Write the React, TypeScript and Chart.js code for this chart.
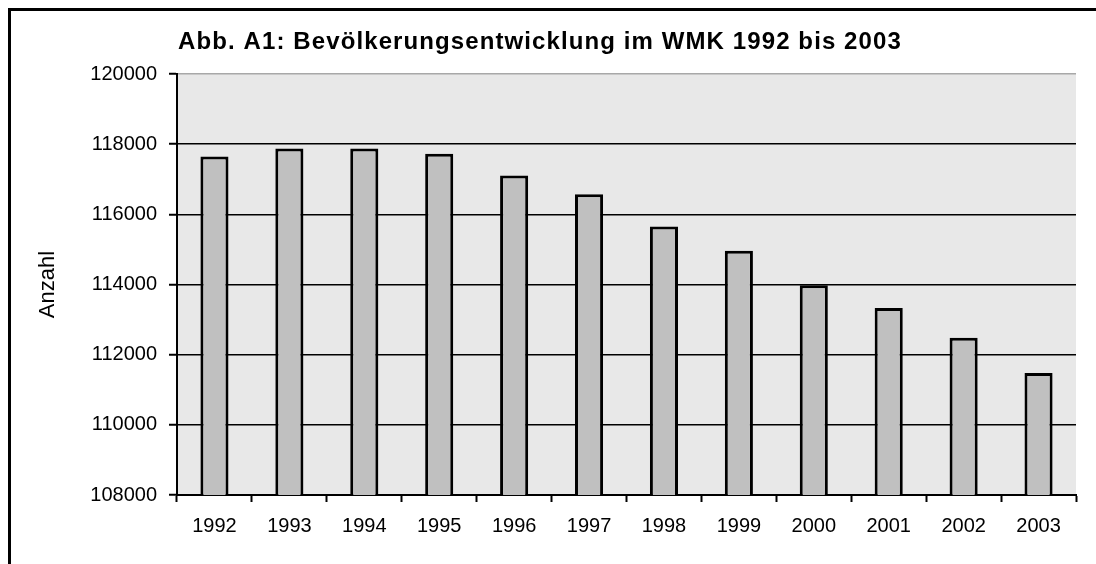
import React, { useEffect, useRef } from "react";
import { Chart, registerables } from "chart.js";

Chart.register(...registerables);

const years = ["1992", "1993", "1994", "1995", "1996", "1997", "1998", "1999", "2000", "2001", "2002", "2003"];
const population = [117650, 117880, 117880, 117730, 117110, 116570, 115650, 114960, 113980, 113330, 112480, 111480];
const yMin = 108000;
const yMax = 120000;
const yStep = 2000;
const titleText = "Abb. A1: Bevölkerungsentwicklung im WMK 1992 bis 2003";
const yAxisLabel = "Anzahl";

const FONT = "'Liberation Sans', Arial, sans-serif";

export default function App() {
  const canvasRef = useRef<HTMLCanvasElement | null>(null);

  useEffect(() => {
    const canvas = canvasRef.current;
    if (!canvas) return;

    const bgPlugin = {
      id: "plotBg",
      beforeDraw(chart: any) {
        const { ctx, chartArea } = chart;
        ctx.save();
        ctx.fillStyle = "#E8E8E8";
        ctx.fillRect(chartArea.left, chartArea.top, chartArea.right - chartArea.left, chartArea.bottom - chartArea.top);
        ctx.restore();
      },
    };

    const titlePlugin = {
      id: "customTitle",
      afterDraw(chart: any) {
        const { ctx } = chart;
        ctx.save();
        ctx.font = `bold 24px ${FONT}`;
        try {
          (ctx as any).letterSpacing = "1.1px";
        } catch (e) {}
        ctx.fillStyle = "#000000";
        ctx.textAlign = "center";
        ctx.textBaseline = "alphabetic";
        ctx.fillText(titleText, 532, 41);
        ctx.restore();
      },
    };

    const chart = new Chart(canvas, {
      type: "bar",
      data: {
        labels: years,
        datasets: [
          {
            data: population,
            backgroundColor: "#C0C0C0",
            borderColor: "#000000",
            borderWidth: 3,
            borderSkipped: false,
            barPercentage: 0.375,
            categoryPercentage: 1,
          },
        ],
      },
      options: {
        responsive: false,
        animation: false,
        devicePixelRatio: 1,
        layout: { padding: { top: 66, right: 12, bottom: 0, left: 0 } },
        plugins: {
          legend: { display: false },
          title: { display: false },
          tooltip: { enabled: false },
        },
        scales: {
          x: {
            grid: {
              display: true,
              drawOnChartArea: false,
              drawTicks: true,
              tickLength: 7,
              tickColor: "#000000",
              tickWidth: 2,
              offset: true,
            },
            border: { display: true, color: "#000000", width: 2 },
            ticks: {
              color: "#000000",
              font: { family: FONT, size: 20 },
              padding: 12,
              maxRotation: 0,
            },
            afterFit(scale: any) {
              scale.height = 61;
            },
          },
          y: {
            min: yMin,
            max: yMax,
            grid: {
              color: (ctx: any) => (ctx.tick && ctx.tick.value === yMax ? "#A8A8A8" : "#000000"),
              lineWidth: 1.5,
              drawTicks: true,
              tickLength: 8,
              tickColor: "#000000",
              tickWidth: 2,
            },
            border: { display: true, color: "#000000", width: 2 },
            ticks: {
              stepSize: yStep,
              color: "#000000",
              font: { family: FONT, size: 20 },
              padding: 12,
              callback: (v: any) => String(v),
            },
            title: {
              display: true,
              text: yAxisLabel,
              color: "#000000",
              font: { family: FONT, size: 22 },
              padding: { top: 27, bottom: 0 },
            },
            afterFit(scale: any) {
              scale.width = 169;
            },
          },
        },
      },
      plugins: [bgPlugin, titlePlugin],
    });

    return () => {
      chart.destroy();
    };
  }, []);

  return (
    <div style={{ position: "relative", width: 1080, height: 548 }}>
      <div
        style={{
          position: "fixed",
          left: 8,
          top: 8,
          width: 2000,
          height: 2000,
          borderTop: "3px solid #000",
          borderLeft: "3px solid #000",
          boxSizing: "border-box",
          pointerEvents: "none",
        }}
      />
      <canvas ref={canvasRef} width={1080} height={548} style={{ position: "absolute", left: 0, top: 0, width: 1080, height: 548 }} />
    </div>
  );
}
